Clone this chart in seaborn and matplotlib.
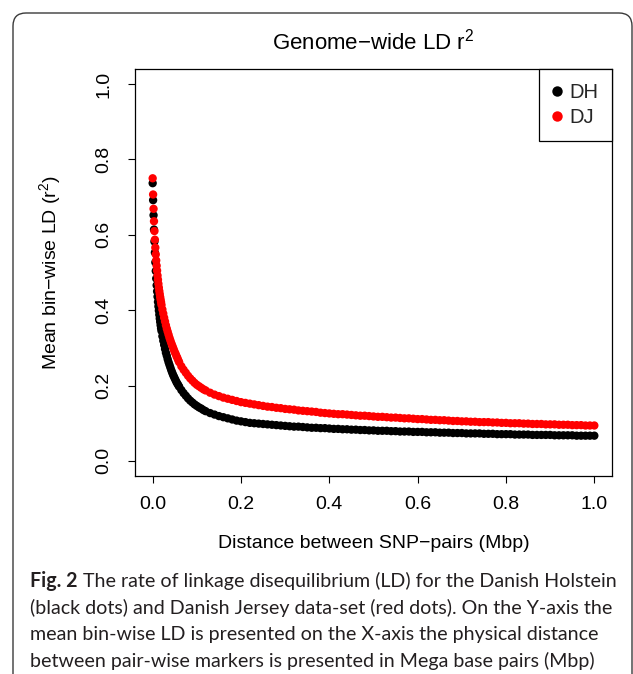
import matplotlib
matplotlib.use("Agg")
import matplotlib.pyplot as plt
import numpy as np
import pandas as pd
import seaborn as sns
from matplotlib.patches import FancyBboxPatch

# ---------------- data ----------------
distance_mbp = [
    0.000, 0.001, 0.002, 0.003, 0.004, 0.005, 0.006, 0.007, 0.008, 0.009, 0.010,
    0.011, 0.012, 0.013, 0.014, 0.015, 0.016, 0.017, 0.018, 0.019, 0.020,
    0.022, 0.024, 0.026, 0.028, 0.030, 0.032, 0.034, 0.036, 0.038, 0.040,
    0.042, 0.044, 0.046, 0.048, 0.050, 0.052, 0.054, 0.056, 0.058, 0.060,
    0.065, 0.070, 0.075, 0.080, 0.085, 0.090, 0.095, 0.100, 0.105, 0.110, 0.115, 0.120,
    0.13, 0.14, 0.15, 0.16, 0.17, 0.18, 0.19, 0.20, 0.21, 0.22,
    0.23, 0.24, 0.25, 0.26, 0.27, 0.28, 0.29, 0.30, 0.31, 0.32,
    0.33, 0.34, 0.35, 0.36, 0.37, 0.38, 0.39, 0.40, 0.41, 0.42,
    0.43, 0.44, 0.45, 0.46, 0.47, 0.48, 0.49, 0.50, 0.51, 0.52,
    0.53, 0.54, 0.55, 0.56, 0.57, 0.58, 0.59, 0.60, 0.61, 0.62,
    0.63, 0.64, 0.65, 0.66, 0.67, 0.68, 0.69, 0.70, 0.71, 0.72,
    0.73, 0.74, 0.75, 0.76, 0.77, 0.78, 0.79, 0.80, 0.81, 0.82,
    0.83, 0.84, 0.85, 0.86, 0.87, 0.88, 0.89, 0.90, 0.91, 0.92,
    0.93, 0.94, 0.95, 0.96, 0.97, 0.98, 0.99, 1.00,
]

dh_r2 = [  # Danish Holstein (black)
    0.737, 0.692, 0.652, 0.614, 0.582, 0.553, 0.527, 0.504, 0.484, 0.466, 0.450,
    0.436, 0.422, 0.410, 0.399, 0.388, 0.378, 0.369, 0.360, 0.352, 0.345,
    0.331, 0.319, 0.308, 0.297, 0.287, 0.279, 0.270, 0.262, 0.255, 0.248,
    0.241, 0.235, 0.229, 0.224, 0.219, 0.214, 0.209, 0.205, 0.201, 0.197,
    0.188, 0.180, 0.173, 0.166, 0.160, 0.155, 0.150, 0.146, 0.142, 0.139, 0.135, 0.132,
    0.127, 0.123, 0.119, 0.116, 0.113, 0.110, 0.107, 0.105, 0.103, 0.101,
    0.100, 0.099, 0.098, 0.097, 0.096, 0.095, 0.094, 0.093, 0.092, 0.091,
    0.091, 0.090, 0.089, 0.088, 0.088, 0.087, 0.087, 0.086, 0.085, 0.085,
    0.084, 0.084, 0.083, 0.083, 0.082, 0.082, 0.081, 0.081, 0.080, 0.080,
    0.080, 0.079, 0.079, 0.078, 0.078, 0.078, 0.077, 0.077, 0.077, 0.076,
    0.076, 0.076, 0.075, 0.075, 0.075, 0.074, 0.074, 0.074, 0.073, 0.073,
    0.073, 0.073, 0.072, 0.072, 0.072, 0.071, 0.071, 0.071, 0.071, 0.070,
    0.070, 0.070, 0.070, 0.069, 0.069, 0.069, 0.069, 0.069, 0.068, 0.068,
    0.068, 0.068, 0.068, 0.067, 0.067, 0.067, 0.067, 0.067,
]

dj_r2 = [  # Danish Jersey (red)
    0.750, 0.707, 0.669, 0.636, 0.610, 0.587, 0.566, 0.548, 0.532, 0.518, 0.505,
    0.492, 0.481, 0.470, 0.460, 0.451, 0.443, 0.435, 0.428, 0.421, 0.414,
    0.402, 0.391, 0.380, 0.370, 0.360, 0.351, 0.343, 0.335, 0.327, 0.320,
    0.313, 0.307, 0.301, 0.295, 0.289, 0.284, 0.278, 0.273, 0.267, 0.262,
    0.251, 0.242, 0.234, 0.226, 0.219, 0.213, 0.207, 0.202, 0.198, 0.194, 0.190, 0.187,
    0.181, 0.176, 0.172, 0.168, 0.165, 0.162, 0.159, 0.156, 0.154, 0.152,
    0.150, 0.148, 0.146, 0.144, 0.143, 0.141, 0.140, 0.138, 0.137, 0.136,
    0.134, 0.133, 0.132, 0.131, 0.130, 0.128, 0.127, 0.126, 0.125, 0.124,
    0.124, 0.123, 0.122, 0.121, 0.120, 0.120, 0.119, 0.118, 0.117, 0.117,
    0.116, 0.115, 0.115, 0.114, 0.113, 0.113, 0.112, 0.111, 0.111, 0.110,
    0.109, 0.109, 0.108, 0.108, 0.107, 0.106, 0.106, 0.105, 0.105, 0.104,
    0.104, 0.103, 0.103, 0.103, 0.102, 0.102, 0.101, 0.101, 0.100, 0.100,
    0.100, 0.099, 0.099, 0.098, 0.098, 0.098, 0.097, 0.097, 0.097, 0.096,
    0.096, 0.096, 0.095, 0.095, 0.095, 0.094, 0.094, 0.094,
]

populations = ["DH", "DJ"]
pop_colors = ["black", "red"]
tick_values = [0.0, 0.2, 0.4, 0.6, 0.8, 1.0]
tick_labels = ["0.0", "0.2", "0.4", "0.6", "0.8", "1.0"]

title_text = "Genome\u2212wide LD $\\mathregular{r^2}$"
xlabel_text = "Distance between SNP\u2212pairs (Mbp)"
ylabel_text = "Mean bin\u2212wise LD ($\\mathregular{r^2}$)"
caption_bold = "Fig. 2"
caption_lines = [
    " The rate of linkage disequilibrium (LD) for the Danish Holstein",
    "(black dots) and Danish Jersey data-set (red dots). On the Y-axis the",
    "mean bin-wise LD is presented on the X-axis the physical distance",
    "between pair-wise markers is presented in Mega base pairs (Mbp)",
]

df = pd.concat([
    pd.DataFrame({"distance": distance_mbp, "r2": dh_r2, "pop": populations[0]}),
    pd.DataFrame({"distance": distance_mbp, "r2": dj_r2, "pop": populations[1]}),
], ignore_index=True)

# ---------------- style ----------------
sns.set_theme(style="ticks")
plt.rcParams["font.family"] = ["Liberation Sans", "DejaVu Sans"]
plt.rcParams["mathtext.fontset"] = "custom"
plt.rcParams["mathtext.rm"] = "Liberation Sans"
plt.rcParams["mathtext.it"] = "Liberation Sans:italic"
plt.rcParams["axes.unicode_minus"] = True

W, H = 633, 674
fig = plt.figure(figsize=(W / 100, H / 100), dpi=100)
fig.patch.set_facecolor("white")

# outer rounded frame of the figure panel
frame = FancyBboxPatch((13 / 100, -0.5), (632 - 13) / 100, (H - 13) / 100 + 0.5,
                       boxstyle="round,pad=0,rounding_size=0.13",
                       transform=fig.dpi_scale_trans, fill=False,
                       edgecolor="#3a3a3a", linewidth=1.0, clip_on=False)
fig.patches.append(frame)

ax_l, ax_r, ax_t, ax_b = 135, 612, 69, 476
ax = fig.add_axes([ax_l / W, 1 - ax_b / H, (ax_r - ax_l) / W, (ax_b - ax_t) / H])

sns.scatterplot(data=df, x="distance", y="r2", hue="pop", hue_order=populations,
                palette=dict(zip(populations, pop_colors)), s=36, linewidth=0,
                ax=ax, legend=True)

ax.set_xlim(-0.04, 1.04)
ax.set_ylim(-0.04, 1.04)
ax.set_xticks(tick_values)
ax.set_xticklabels(tick_labels)
ax.set_yticks(tick_values)
ax.set_yticklabels(tick_labels, rotation=90, va="center")
ax.tick_params(axis="both", direction="out", length=5.2, width=0.8,
               labelsize=14, colors="black")
ax.tick_params(axis="x", pad=9)
ax.tick_params(axis="y", pad=11)
for sp in ax.spines.values():
    sp.set_visible(True)
    sp.set_color("black")
    sp.set_linewidth(0.9)

ax.set_xlabel(xlabel_text, fontsize=14, color="black")
ax.xaxis.label.set_va("center")
ax.xaxis.set_label_coords(0.5, -(543 - ax_b) / (ax_b - ax_t))
ax.set_ylabel(ylabel_text, fontsize=14, color="black")
ax.yaxis.label.set_va("center")
ax.yaxis.set_label_coords(-(ax_l - 50) / (ax_r - ax_l), 0.5)

ax.set_title(title_text, fontsize=16, color="black", pad=0,
             y=(ax_b - 42) / (ax_b - ax_t), va="center")

sns.move_legend(ax, "upper right", title=None, frameon=True, fancybox=False,
                borderaxespad=0, fontsize=14.5, borderpad=0.7, labelspacing=0.28,
                handlelength=0.4, handletextpad=0.4, markerscale=1.25)
leg = ax.get_legend()
leg.get_frame().set_edgecolor("black")
leg.get_frame().set_linewidth(0.9)
leg.get_frame().set_alpha(1)

# caption
cap_font = dict(family=["Lato", "DejaVu Sans"], fontsize=14.1, color="#231f20")
baselines = [587, 614, 640, 667]
t_bold = fig.text(30 / W, 1 - baselines[0] / H, caption_bold, fontweight="bold",
                  va="baseline", ha="left", **cap_font)
fig.canvas.draw()
bb = t_bold.get_window_extent()
fig.text(bb.x1 / W, 1 - baselines[0] / H, caption_lines[0], va="baseline",
         ha="left", **cap_font)
for line, yb in zip(caption_lines[1:], baselines[1:]):
    fig.text(30 / W, 1 - yb / H, line, va="baseline", ha="left", **cap_font)

fig.savefig("out.png", dpi=100)
